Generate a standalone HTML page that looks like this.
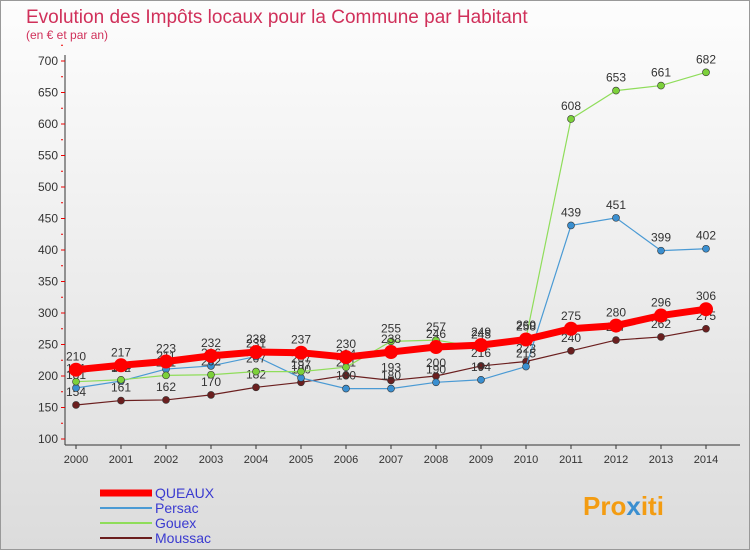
<!DOCTYPE html>
<html><head><meta charset="utf-8"><style>
body{margin:0}
svg{display:block;font-family:"Liberation Sans",sans-serif}
</style></head><body>
<svg width="750" height="550" viewBox="0 0 750 550">
<defs><linearGradient id="bg" x1="0" y1="0" x2="0" y2="1"><stop offset="0" stop-color="#fdfdfd"/><stop offset="1" stop-color="#dcdcdc"/></linearGradient></defs>
<rect x="0.5" y="0.5" width="749" height="549" fill="url(#bg)" stroke="#999"/>
<text x="26" y="23" font-size="19" fill="#d0305a">Evolution des Impôts locaux pour la Commune par Habitant</text>
<text x="26" y="39" font-size="12" fill="#d0305a">(en € et par an)</text>
<g id="axes"></g>
<g id="series"></g>
<g id="legend"></g>
<text x="583" y="515" font-size="26" font-weight="bold" fill="#f39c12">Pro<tspan fill="#3a8fd0">x</tspan>iti</text>
</svg>
<script>
const years=[2000,2001,2002,2003,2004,2005,2006,2007,2008,2009,2010,2011,2012,2013,2014];
const yTicks=[100,150,200,250,300,350,400,450,500,550,600,650,700];
const queaux=[210,217,223,232,238,237,230,238,246,249,258,275,280,296,306];
const persac=[181,192,211,216,231,197,180,180,190,194,215,439,451,399,402];
const gouex=[191,194,201,202,207,207,214,255,257,245,260,608,653,661,682];
const moussac=[154,161,162,170,182,190,201,193,200,216,223,240,257,262,275];
const NS="http://www.w3.org/2000/svg";
const xS=i=>76+i*45;
const yS=v=>439-(v-100)*0.63;
function mk(t,a,p){const e=document.createElementNS(NS,t);for(const k in a)e.setAttribute(k,a[k]);p.appendChild(e);return e;}
const ax=document.getElementById('axes');
const yl=mk('line',{x1:65,y1:55,x2:65,y2:445,stroke:'#333'},ax);


const xl=mk('line',{x1:65,y1:445,x2:740,y2:445,stroke:'#333'},ax);


yTicks.forEach(v=>{
 mk('line',{x1:61,y1:yS(v),x2:65,y2:yS(v),stroke:'#e00'},ax);
 mk('line',{x1:61,y1:yS(v+25),x2:63,y2:yS(v+25),stroke:'#e00'},ax);
 const t=mk('text',{x:58,y:yS(v)+4,'font-size':12,'text-anchor':'end',fill:'#333'},ax);
 t.textContent=v;
 
 
});
years.forEach((y,i)=>{
 mk('line',{x1:xS(i),y1:445,x2:xS(i),y2:449,stroke:'#333'},ax);
 const t=mk('text',{x:xS(i),y:463,'font-size':11,'text-anchor':'middle',fill:'#333'},ax);
 t.textContent=y;
 
 
});
const sg=document.getElementById('series');
function draw(vals,color,dot,w,r,name){
 const g=mk('g',{},sg);
 
 
 const pl=mk('polyline',{points:vals.map((v,i)=>xS(i)+','+yS(v)).join(' '),fill:'none',stroke:color,'stroke-width':w},g);
 
 
 vals.forEach((v,i)=>{
  const c=mk('circle',{cx:xS(i),cy:yS(v),r:r,fill:dot,stroke:'#333','stroke-width':r>5?0:0.6},g);
  
  
  const t=mk('text',{x:xS(i),y:yS(v)-9,'font-size':12,'text-anchor':'middle',fill:'#333'},g);
  t.textContent=v;
  
  
 });
}
draw(moussac,'#6b1f1f','#6b1f1f',1.2,3.5,'moussac');
draw(persac,'#4a9ad4','#3a8fd0',1.2,3.5,'persac');
draw(gouex,'#8fdd5a','#7cd13a',1.2,3.5,'gouex');
draw(queaux,'#ff0000','#ff0000',7,7,'queaux');
const lg=document.getElementById('legend');
const items=[['QUEAUX','#ff0000',7],['Persac','#4a9ad4',2],['Gouex','#8fdd5a',2],['Moussac','#6b1f1f',2]];
items.forEach((it,i)=>{
 const y=493+i*15;
 const g=mk('g',{},lg);
 
 
 mk('line',{x1:100,y1:y,x2:152,y2:y,stroke:it[1],'stroke-width':it[2]},g);
 const t=mk('text',{x:155,y:y+5,'font-size':14,fill:'#3a3ad0'},g);
 t.textContent=it[0];
});
</script>
</body></html>
